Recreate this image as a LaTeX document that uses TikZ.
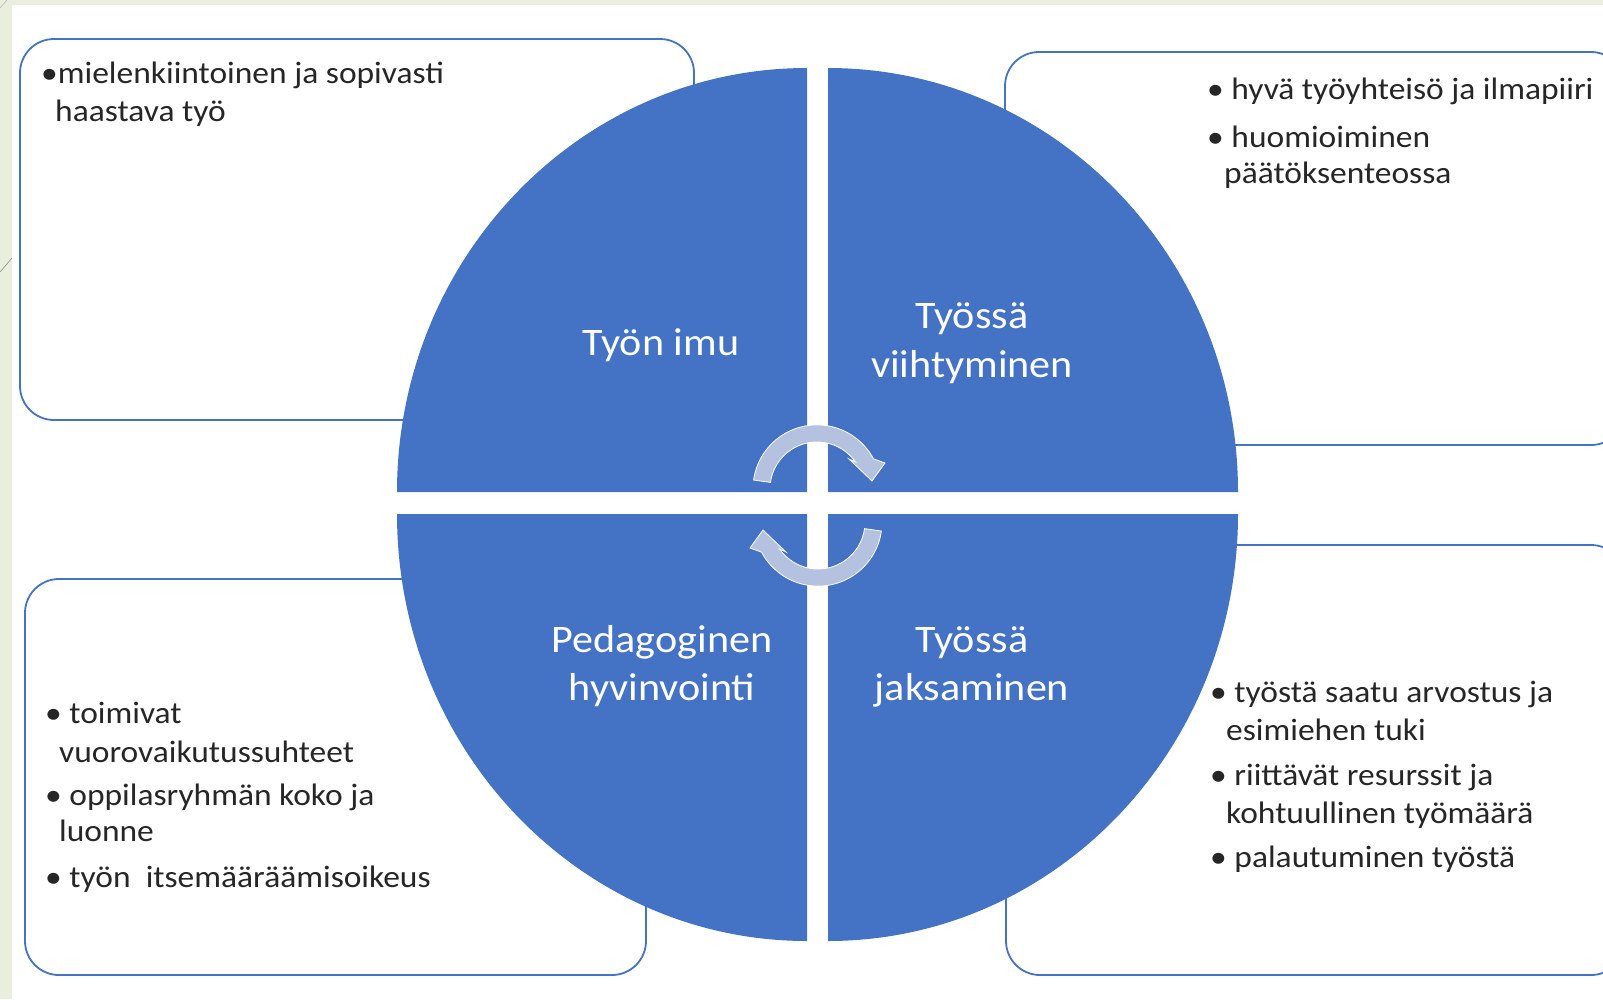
\documentclass[tikz,border=0pt]{standalone}
\usepackage{fontspec}
\setmainfont{Carlito}[FakeStretch=1.08]
\definecolor{quarterBlue}{HTML}{4472C4}
\definecolor{arrowGrey}{RGB}{180,194,224}
\definecolor{slideGreen}{RGB}{233,238,221}
\definecolor{listGrey}{RGB}{38,38,38}

\begin{document}
\begin{tikzpicture}[x=1pt,y=-1pt,%%
  quarterStyle/.style={fill=quarterBlue,draw=none},
  boxStyle/.style={draw=quarterBlue,line width=1.8pt,fill=white,rounded corners=34pt},
  arrowStyle/.style={fill=arrowGrey,draw=white,line width=0.8pt},
  labelStyle/.style={text=white,font=\fontsize{39}{49}\selectfont,inner sep=0pt,anchor=base},
  listStyle/.style={text=listGrey,font=\fontsize{31}{37}\selectfont,inner sep=0pt,anchor=base west}
]
%%
\useasboundingbox (0,0) rectangle (1603,999);
\clip (0,0) rectangle (1603,999);
%%
%% Slide background.
\fill[slideGreen] (0,0) rectangle (1603,999);
\fill[white] (12,5) rectangle (1603,999);
\draw[black!45,line width=0.6pt] (0,272) -- (12,258);
\draw[black!30,line width=0.5pt] (0,8) -- (7,0);
%%
%% The four text boxes.
\path[boxStyle] (20,39) rectangle (694,420);
\path[boxStyle] (1005,52) rectangle (1625,445);
\path[boxStyle] (25,579) rectangle (646,975);
\path[boxStyle] (1006,545) rectangle (1625,975);
%%
%% The circle in four quarters.
\path[quarterStyle] (807,492) -- (397,492) arc (180:270:410 and 424) -- cycle;
\path[quarterStyle] (828,492) -- (1238,492) arc (0:-90:410 and 424) -- cycle;
\path[quarterStyle] (807,514) -- (397,514) arc (180:90:410 and 427) -- cycle;
\path[quarterStyle] (828,514) -- (1238,514) arc (0:90:410 and 427) -- cycle;
%%
%% Circular arrows in the middle.
\path[arrowStyle] (753.6,480) arc (188:332:64) -- (885,463) -- (872,481)
  -- (849,459) -- (855.5,462) arc (325:188:47) -- cycle;
\begin{scope}[rotate around={180:(817.5,505.5)}]
  \path[arrowStyle] (753.6,480) arc (188:332:64) -- (885,463) -- (872,481)
    -- (849,459) -- (855.5,462) arc (325:188:47) -- cycle;
\end{scope}
%%
%% Label the quarters.
\node[labelStyle] (imuLabel) at (661,355) {Työn imu};
\node[labelStyle] (viihtyLabelA) at (972,328) {Työssä};
\node[labelStyle] (viihtyLabelB) at (972,377) {viihtyminen};
\node[labelStyle] (pedaLabelA) at (662,652) {Pedagoginen};
\node[labelStyle] (pedaLabelB) at (662,700) {hyvinvointi};
\node[labelStyle] (jaksaLabelA) at (972,652) {Työssä};
\node[labelStyle] (jaksaLabelB) at (972,700) {jaksaminen};
%%
%% Lists in the boxes.
\node[listStyle] (imuLineA) at (41,83) {•mielenkiintoinen ja sopivasti};
\node[listStyle] (imuLineB) at (55,121) {haastava työ};
%%
\node[listStyle] (viihtyLineA) at (1207,99) {•\ hyvä työyhteisö ja ilmapiiri};
\node[listStyle] (viihtyLineB) at (1207,147) {•\ huomioiminen};
\node[listStyle] (viihtyLineC) at (1224,183) {päätöksenteossa};
%%
\node[listStyle] (pedaLineA) at (45,723) {•\ toimivat};
\node[listStyle] (pedaLineB) at (59,762) {vuorovaikutussuhteet};
\node[listStyle] (pedaLineC) at (45,805) {•\ oppilasryhmän koko ja};
\node[listStyle] (pedaLineD) at (59,841) {luonne};
\node[listStyle] (pedaLineE) at (45,887) {•\ työn~ itsemääräämisoikeus};
%%
\node[listStyle] (jaksaLineA) at (1210,702) {•\ työstä saatu arvostus ja};
\node[listStyle] (jaksaLineB) at (1226,740) {esimiehen tuki};
\node[listStyle] (jaksaLineC) at (1210,785) {•\ riittävät resurssit ja};
\node[listStyle] (jaksaLineD) at (1226,823) {kohtuullinen työmäärä};
\node[listStyle] (jaksaLineE) at (1210,867) {•\ palautuminen työstä};
\end{tikzpicture}
\end{document}
